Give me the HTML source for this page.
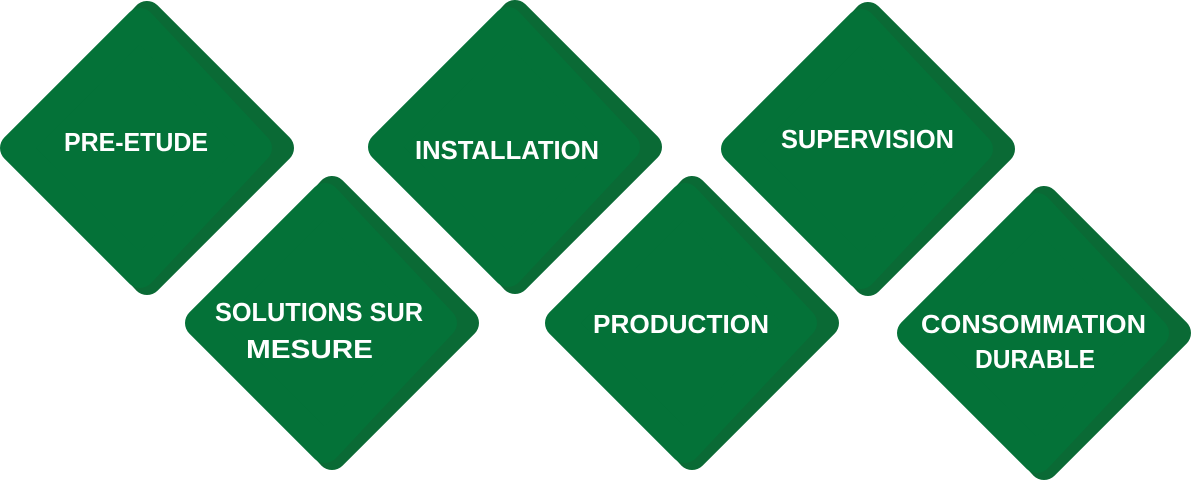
<!DOCTYPE html>
<html><head><meta charset="utf-8"><style>
html,body{margin:0;padding:0;background:#fff;width:1192px;height:481px;overflow:hidden}
svg{display:block}
text{font-family:"Liberation Sans",sans-serif;font-weight:bold;font-size:26px;fill:#fff}
</style></head><body>
<svg width="1192" height="481" viewBox="0 0 1192 481" xmlns="http://www.w3.org/2000/svg">
<defs>
<g id="d">
<polygon points="147,15 279,147 147,279 25,147" fill="#0a6a35" stroke="#0a6a35" stroke-width="30" stroke-linejoin="round"/>
<polygon points="140,22 257,147 140,272 15,147" fill="#047238" stroke="#047238" stroke-width="30" stroke-linejoin="round"/>
</g>
</defs>
<use href="#d" x="0" y="1"/>
<use href="#d" x="185" y="176"/>
<use href="#d" x="368" y="0"/>
<use href="#d" x="545" y="176"/>
<use href="#d" x="721" y="2"/>
<use href="#d" x="897" y="186"/>

<text x="64" y="151" textLength="144" lengthAdjust="spacingAndGlyphs">PRE-ETUDE</text>
<text x="415" y="159" textLength="184" lengthAdjust="spacingAndGlyphs">INSTALLATION</text>
<text x="781" y="148" textLength="173" lengthAdjust="spacingAndGlyphs">SUPERVISION</text>
<text x="215" y="321" textLength="208" lengthAdjust="spacingAndGlyphs">SOLUTIONS SUR</text>
<text x="246" y="358" textLength="127" lengthAdjust="spacingAndGlyphs">MESURE</text>
<text x="593" y="333" textLength="176" lengthAdjust="spacingAndGlyphs">PRODUCTION</text>
<text x="921" y="333" textLength="225" lengthAdjust="spacingAndGlyphs">CONSOMMATION</text>
<text x="975" y="368" textLength="120" lengthAdjust="spacingAndGlyphs">DURABLE</text>
</svg>
</body></html>
